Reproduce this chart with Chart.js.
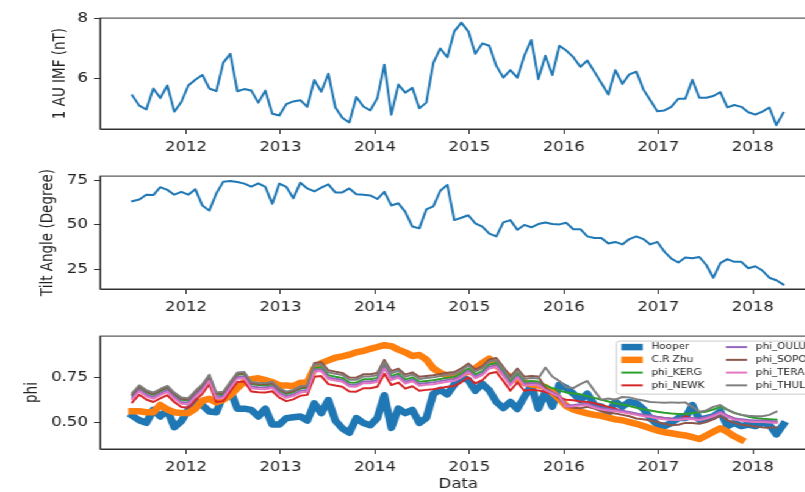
<!DOCTYPE html>
<html>
<head>
<meta charset="utf-8">
<script src="https://cdn.jsdelivr.net/npm/chart.js@4.4.0/dist/chart.umd.min.js"></script>
<style>
  html, body { margin: 0; padding: 0; background: #fff; overflow: hidden; width: 805px; height: 492px; }
  /* the reference figure is stretched sideways, so the whole figure is drawn narrower and scaled */
  #figure { position: absolute; left: 0; top: 0; width: 700px; height: 492px; transform: scaleX(1.22); transform-origin: 0 0; }
  #figure canvas { position: absolute; left: 0; }
</style>
</head>
<body>
<div id="figure">
  <canvas id="imfChart" width="700" height="168" style="top:5px"></canvas>
  <canvas id="tiltChart" width="700" height="170" style="top:163px"></canvas>
  <canvas id="phiChart" width="700" height="170" style="top:323px"></canvas>
</div>
<script>
// ===== Time axis: one point per solar rotation =====
const firstRotation = 2011.431;      // decimal year of first point
const rotationDays = 27.07;
const rotationCount = 94;
const rotationTimes = [];
for (let i = 0; i < rotationCount; i++) rotationTimes.push(firstRotation + i * rotationDays / 365.25);

const yearTicks = [2012, 2013, 2014, 2015, 2016, 2017, 2018];

// ===== Panel 1: IMF at 1 AU (nT) =====
const imfValues = [
    5.43, 5.09, 4.96, 5.66, 5.34, 5.76, 4.89, 5.21, 5.76, 5.95,
    6.11, 5.66, 5.57, 6.52, 6.81, 5.57, 5.64, 5.59, 5.19, 5.59,
    4.82, 4.76, 5.14, 5.23, 5.27, 5.05, 5.94, 5.55, 6.15, 5.03,
    4.69, 4.53, 5.38, 5.06, 4.93, 5.34, 6.45, 4.79, 5.79, 5.52,
    5.68, 5.00, 5.19, 6.51, 6.99, 6.70, 7.56, 7.85, 7.56, 6.81,
    7.16, 7.08, 6.41, 6.02, 6.27, 6.02, 6.75, 7.27, 5.97, 6.75,
    6.11, 7.08, 6.92, 6.70, 6.38, 6.59, 6.22, 5.84, 5.46, 6.27,
    5.81, 6.13, 6.22, 5.63, 5.27, 4.90, 4.93, 5.05, 5.32, 5.32,
    5.95, 5.35, 5.35, 5.41, 5.54, 5.03, 5.11, 5.05, 4.87, 4.79,
    4.89, 5.03, 4.44, 4.85
];
const imfTicks = [6, 8];

// ===== Panel 2: tilt angle (degree) =====
const tiltValues = [
    63.2, 64.1, 66.8, 66.6, 71.0, 69.5, 66.8, 68.4, 66.8, 69.9,
    60.8, 57.9, 67.5, 74.1, 74.5, 73.9, 73.0, 71.3, 73.1, 71.2,
    61.7, 73.0, 71.2, 64.8, 73.5, 70.3, 68.6, 70.8, 72.6, 68.1,
    68.1, 70.3, 67.1, 66.8, 66.4, 64.4, 68.4, 60.8, 62.0, 57.2,
    49.0, 48.0, 58.6, 60.3, 69.0, 72.3, 52.6, 53.9, 55.3, 50.8,
    49.0, 45.0, 43.5, 51.3, 52.6, 47.2, 49.9, 48.6, 50.4, 51.3,
    50.4, 50.2, 51.1, 47.5, 47.5, 43.5, 42.6, 42.6, 39.5, 40.4,
    39.0, 42.0, 43.5, 42.0, 39.0, 40.4, 35.0, 31.1, 28.9, 31.7,
    31.3, 32.0, 27.5, 20.4, 28.6, 30.8, 29.3, 29.3, 25.7, 26.8,
    24.4, 20.4, 19.0, 16.6
];
const tiltTicks = [25, 50, 75];

// ===== Panel 3: modulation potential phi =====
const hooperValues = [
    0.535, 0.510, 0.495, 0.568, 0.531, 0.568, 0.471, 0.504, 0.568, 0.617,
    0.595, 0.559, 0.555, 0.650, 0.677, 0.575, 0.575, 0.568, 0.531, 0.575,
    0.486, 0.486, 0.522, 0.527, 0.531, 0.508, 0.604, 0.550, 0.623, 0.508,
    0.464, 0.440, 0.522, 0.495, 0.482, 0.522, 0.650, 0.467, 0.575, 0.550,
    0.568, 0.495, 0.522, 0.657, 0.680, 0.655, 0.710, 0.750, 0.735, 0.675,
    0.714, 0.677, 0.613, 0.578, 0.613, 0.573, 0.641, 0.705, 0.575, 0.668,
    0.586, 0.710, 0.690, 0.659, 0.623, 0.659, 0.595, 0.586, 0.550, 0.613,
    0.586, 0.613, 0.604, 0.573, 0.522, 0.486, 0.477, 0.495, 0.522, 0.522,
    0.595, 0.513, 0.522, 0.531, 0.559, 0.477, 0.495, 0.477, 0.486, 0.477,
    0.495, 0.486, 0.431, 0.486
];
const zhuValues = [
    0.560, 0.560, 0.555, 0.555, 0.595, 0.570, 0.555, 0.550, 0.550, 0.575,
    0.620, 0.630, 0.610, 0.625, 0.650, 0.690, 0.725, 0.740, 0.745, 0.735,
    0.723, 0.705, 0.705, 0.700, 0.720, 0.720, 0.800, 0.830, 0.845, 0.860,
    0.868, 0.877, 0.890, 0.898, 0.910, 0.920, 0.930, 0.925, 0.905, 0.890,
    0.870, 0.875, 0.850, 0.800, 0.775, 0.760, 0.760, 0.770, 0.780, 0.800,
    0.830, 0.855, 0.820, 0.780, 0.750, 0.735, 0.720, 0.710, 0.705, 0.695,
    0.665, 0.630, 0.590, 0.570, 0.558, 0.548, 0.540, 0.535, 0.525, 0.515,
    0.510, 0.500, 0.490, 0.478, 0.465, 0.452, 0.443, 0.437, 0.430, 0.425,
    0.415, 0.405, 0.425, 0.445, 0.465, 0.445, 0.420, 0.400, null, null,
    null, null, null, null
];
const kergValues = [
    0.650, 0.693, 0.666, 0.652, 0.672, 0.690, 0.652, 0.624, 0.620, 0.662,
    0.698, 0.752, 0.652, 0.657, 0.712, 0.764, 0.767, 0.711, 0.707, 0.705,
    0.712, 0.677, 0.657, 0.667, 0.687, 0.692, 0.803, 0.807, 0.762, 0.754,
    0.747, 0.721, 0.720, 0.739, 0.739, 0.747, 0.820, 0.757, 0.771, 0.737,
    0.750, 0.725, 0.730, 0.734, 0.741, 0.748, 0.752, 0.772, 0.800, 0.766,
    0.785, 0.822, 0.830, 0.780, 0.725, 0.771, 0.725, 0.730, 0.727, 0.705,
    0.690, 0.677, 0.665, 0.660, 0.655, 0.645, 0.635, 0.625, 0.615, 0.605,
    0.598, 0.590, 0.580, 0.572, 0.565, 0.558, 0.552, 0.548, 0.545, 0.545,
    0.550, 0.555, 0.558, 0.570, 0.585, 0.568, 0.552, 0.540, 0.530, 0.522,
    0.518, 0.516, 0.513, null
];
const newkValues = [
    0.610, 0.653, 0.626, 0.612, 0.632, 0.650, 0.612, 0.584, 0.580, 0.622,
    0.658, 0.712, 0.612, 0.617, 0.672, 0.724, 0.727, 0.671, 0.667, 0.665,
    0.672, 0.637, 0.617, 0.627, 0.647, 0.652, 0.753, 0.757, 0.712, 0.704,
    0.697, 0.671, 0.670, 0.689, 0.689, 0.697, 0.770, 0.707, 0.721, 0.687,
    0.700, 0.675, 0.680, 0.684, 0.691, 0.698, 0.702, 0.722, 0.750, 0.716,
    0.735, 0.772, 0.780, 0.730, 0.675, 0.721, 0.675, 0.680, 0.677, 0.668,
    0.660, 0.635, 0.625, 0.622, 0.615, 0.612, 0.605, 0.595, 0.585, 0.575,
    0.560, 0.550, 0.545, 0.538, 0.532, 0.528, 0.522, 0.518, 0.515, 0.532,
    0.520, 0.518, 0.520, 0.530, 0.555, 0.535, 0.520, 0.510, 0.505, 0.505,
    0.502, 0.505, 0.500, null
];
const ouluValues = [
    0.638, 0.681, 0.654, 0.640, 0.660, 0.678, 0.640, 0.612, 0.608, 0.650,
    0.686, 0.740, 0.640, 0.645, 0.700, 0.752, 0.755, 0.699, 0.695, 0.693,
    0.700, 0.665, 0.645, 0.655, 0.675, 0.680, 0.791, 0.795, 0.750, 0.742,
    0.735, 0.709, 0.708, 0.727, 0.727, 0.735, 0.808, 0.745, 0.759, 0.725,
    0.738, 0.713, 0.718, 0.722, 0.729, 0.736, 0.740, 0.760, 0.788, 0.754,
    0.773, 0.810, 0.818, 0.768, 0.713, 0.759, 0.713, 0.718, 0.715, 0.688,
    0.668, 0.648, 0.593, 0.596, 0.600, 0.603, 0.588, 0.578, 0.573, 0.568,
    0.563, 0.556, 0.548, 0.540, 0.536, 0.528, 0.523, 0.520, 0.520, 0.523,
    0.523, 0.518, 0.528, 0.540, 0.558, 0.536, 0.520, 0.516, 0.511, 0.508,
    0.508, 0.506, 0.503, null
];
const sopoValues = [
    0.656, 0.699, 0.672, 0.658, 0.678, 0.696, 0.658, 0.630, 0.626, 0.668,
    0.704, 0.758, 0.658, 0.663, 0.718, 0.770, 0.773, 0.717, 0.713, 0.711,
    0.718, 0.683, 0.663, 0.673, 0.693, 0.698, 0.831, 0.835, 0.790, 0.782,
    0.775, 0.749, 0.748, 0.767, 0.767, 0.775, 0.848, 0.785, 0.799, 0.765,
    0.778, 0.753, 0.758, 0.762, 0.769, 0.776, 0.780, 0.800, 0.828, 0.794,
    0.813, 0.850, 0.858, 0.808, 0.753, 0.799, 0.753, 0.758, 0.755, 0.690,
    0.660, 0.632, 0.586, 0.580, 0.577, 0.585, 0.575, 0.560, 0.552, 0.548,
    0.540, 0.532, 0.520, 0.515, 0.508, 0.500, 0.490, 0.482, 0.485, 0.495,
    0.495, 0.490, 0.500, 0.515, 0.535, 0.510, 0.495, 0.485, 0.480, 0.475,
    0.470, 0.468, 0.470, null
];
const teraValues = [
    0.628, 0.671, 0.644, 0.630, 0.650, 0.668, 0.630, 0.602, 0.598, 0.640,
    0.676, 0.730, 0.630, 0.635, 0.690, 0.742, 0.745, 0.689, 0.685, 0.683,
    0.690, 0.655, 0.635, 0.645, 0.665, 0.670, 0.781, 0.785, 0.740, 0.732,
    0.725, 0.699, 0.698, 0.717, 0.717, 0.725, 0.798, 0.735, 0.749, 0.715,
    0.728, 0.703, 0.708, 0.712, 0.719, 0.726, 0.730, 0.750, 0.778, 0.744,
    0.763, 0.800, 0.808, 0.758, 0.703, 0.749, 0.703, 0.708, 0.705, 0.680,
    0.660, 0.640, 0.585, 0.588, 0.592, 0.595, 0.580, 0.570, 0.565, 0.560,
    0.555, 0.548, 0.540, 0.532, 0.528, 0.520, 0.515, 0.512, 0.512, 0.515,
    0.515, 0.510, 0.520, 0.532, 0.550, 0.528, 0.512, 0.508, 0.503, 0.500,
    0.500, 0.498, 0.495, null
];
const thulValues = [
    0.663, 0.706, 0.679, 0.665, 0.685, 0.703, 0.665, 0.637, 0.633, 0.675,
    0.711, 0.765, 0.665, 0.670, 0.725, 0.777, 0.780, 0.724, 0.720, 0.718,
    0.725, 0.690, 0.670, 0.680, 0.700, 0.705, 0.819, 0.823, 0.778, 0.770,
    0.763, 0.737, 0.736, 0.755, 0.755, 0.763, 0.836, 0.773, 0.787, 0.753,
    0.766, 0.741, 0.746, 0.750, 0.757, 0.764, 0.768, 0.788, 0.816, 0.782,
    0.801, 0.838, 0.846, 0.796, 0.741, 0.787, 0.741, 0.746, 0.743, 0.805,
    0.755, 0.730, 0.695, 0.690, 0.712, 0.730, 0.675, 0.625, 0.632, 0.625,
    0.640, 0.638, 0.628, 0.620, 0.612, 0.610, 0.608, 0.610, 0.608, 0.610,
    0.585, 0.558, 0.565, 0.585, 0.595, 0.570, 0.550, 0.540, 0.535, 0.533,
    0.532, 0.540, 0.558, null
];
const phiTicks = [0.50, 0.75];

// legend order = plot order (matplotlib tab10 colours)
const phiSeries = [
    { label: 'Hooper',   values: hooperValues, color: '#1f77b4', width: 6.5 },
    { label: 'C.R Zhu',  values: zhuValues,    color: '#ff7f0e', width: 6.5 },
    { label: 'phi_KERG', values: kergValues,   color: '#2ca02c', width: 2 },
    { label: 'phi_NEWK', values: newkValues,   color: '#d62728', width: 2 },
    { label: 'phi_OULU', values: ouluValues,   color: '#9467bd', width: 2 },
    { label: 'phi_SOPO', values: sopoValues,   color: '#8c564b', width: 2 },
    { label: 'phi_TERA', values: teraValues,   color: '#e377c2', width: 2 },
    { label: 'phi_THUL', values: thulValues,   color: '#7f7f7f', width: 2 }
];

// ===== Shared look =====
const TEXT_COLOR = '#222';
const AXIS_COLOR = '#333';
const X_MIN = 2011.0895;
const X_MAX = 2018.675;
const AXIS_WIDTH = 82;       // left axis box width (unscaled px)
const AREA_RIGHT = 669.3;    // right edge of plot area (unscaled px)
Chart.defaults.font.family = '"DejaVu Sans", sans-serif';
Chart.defaults.color = TEXT_COLOR;

function toPoints(values) {
    return values.map((v, i) => ({ x: rotationTimes[i], y: v }));
}

// box around the plot area, like matplotlib spines
const framePlugin = {
    id: 'frame',
    afterDraw(chart) {
        const { ctx, chartArea: a } = chart;
        ctx.save();
        ctx.strokeStyle = AXIS_COLOR;
        ctx.lineWidth = 1;
        ctx.strokeRect(a.left, a.top, a.right - a.left, a.bottom - a.top);
        ctx.restore();
    }
};

// two-column legend, filled column by column
const phiLegendPlugin = {
    id: 'phiLegend',
    afterDraw(chart) {
        const { ctx, chartArea: a } = chart;
        const boxW = 160, boxH = 53;
        const x0 = a.right - 4 - boxW;
        const y0 = a.top + 5;
        ctx.save();
        ctx.fillStyle = 'rgba(255,255,255,0.8)';
        ctx.strokeStyle = '#cccccc';
        ctx.lineWidth = 1;
        ctx.beginPath();
        ctx.roundRect(x0, y0, boxW, boxH, 2.5);
        ctx.fill();
        ctx.stroke();
        ctx.font = '8.6px "DejaVu Sans"';
        ctx.textBaseline = 'middle';
        ctx.fillStyle = TEXT_COLOR;
        phiSeries.forEach((s, i) => {
            const col = Math.floor(i / 4), row = i % 4;
            const hx = x0 + 4 + col * 85.6;
            const hy = y0 + 6 + row * 12.75;
            ctx.strokeStyle = s.color;
            ctx.lineWidth = s.width;
            ctx.lineCap = 'butt';
            ctx.beginPath();
            ctx.moveTo(hx, hy);
            ctx.lineTo(hx + 17.5, hy);
            ctx.stroke();
            ctx.fillText(s.label, hx + 24.6, hy);
        });
        ctx.restore();
    }
};

// ===== Build one panel =====
function buildPanel(canvasId, cfg) {
    const tickFont = { size: 13.5 };
    return new Chart(document.getElementById(canvasId), {
        type: 'line',
        data: { datasets: cfg.datasets },
        options: {
            responsive: false,
            animation: false,
            events: [],
            layout: { padding: { top: 10, left: 0, bottom: 0, right: 700 - AREA_RIGHT } },
            elements: {
                point: { radius: 0 },
                line: { tension: 0, borderJoinStyle: 'round', borderCapStyle: 'square' }
            },
            plugins: { legend: { display: false }, tooltip: { enabled: false } },
            scales: {
                x: {
                    type: 'linear',
                    min: X_MIN,
                    max: X_MAX,
                    afterFit: s => { s.height = 44; },
                    afterBuildTicks: s => { s.ticks = yearTicks.map(v => ({ value: v })); },
                    ticks: { callback: v => String(v), autoSkip: false, maxRotation: 0, padding: 5, font: tickFont, color: TEXT_COLOR },
                    grid: { drawOnChartArea: false, tickLength: 5, tickColor: AXIS_COLOR },
                    border: { color: AXIS_COLOR, width: 1 },
                    title: {
                        display: !!cfg.xTitle,
                        text: cfg.xTitle || '',
                        font: { size: 13.5 },
                        color: TEXT_COLOR,
                        padding: { top: 0, bottom: 0 }
                    }
                },
                y: {
                    min: cfg.yMin,
                    max: cfg.yMax,
                    afterFit: s => { s.width = AXIS_WIDTH; },
                    afterBuildTicks: s => { s.ticks = cfg.yTicks.map(v => ({ value: v })); },
                    ticks: { callback: cfg.yFormat, padding: 5, font: tickFont, color: TEXT_COLOR },
                    grid: { drawOnChartArea: false, tickLength: 5, tickColor: AXIS_COLOR },
                    border: { color: AXIS_COLOR, width: 1 },
                    title: {
                        display: true,
                        text: cfg.yTitle,
                        font: { size: 13.5 },
                        color: TEXT_COLOR,
                        padding: { top: cfg.yTitlePad, bottom: 0 }
                    }
                }
            }
        },
        plugins: [framePlugin].concat(cfg.extraPlugins || [])
    });
}

// ===== Draw the three panels =====
buildPanel('imfChart', {
    datasets: [{ data: toPoints(imfValues), borderColor: '#1f77b4', borderWidth: 2 }],
    yMin: 4.313, yMax: 8.0, yTicks: imfTicks,
    yFormat: v => String(v),
    yTitle: '1 AU IMF (nT)', yTitlePad: 41
});

buildPanel('tiltChart', {
    datasets: [{ data: toPoints(tiltValues), borderColor: '#1f77b4', borderWidth: 2 }],
    yMin: 14.1, yMax: 77.2, yTicks: tiltTicks,
    yFormat: v => String(v),
    yTitle: 'Tilt Angle (Degree)', yTitlePad: 31
});

buildPanel('phiChart', {
    datasets: phiSeries.map((s, i) => ({
        label: s.label,
        data: toPoints(s.values),
        borderColor: s.color,
        borderWidth: s.width,
        order: phiSeries.length - i   // first series underneath, like matplotlib
    })),
    yMin: 0.349, yMax: 0.981, yTicks: phiTicks,
    yFormat: v => v.toFixed(2),
    yTitle: 'phi', yTitlePad: 18,
    xTitle: 'Data',
    extraPlugins: [phiLegendPlugin]
});
</script>
</body>
</html>
